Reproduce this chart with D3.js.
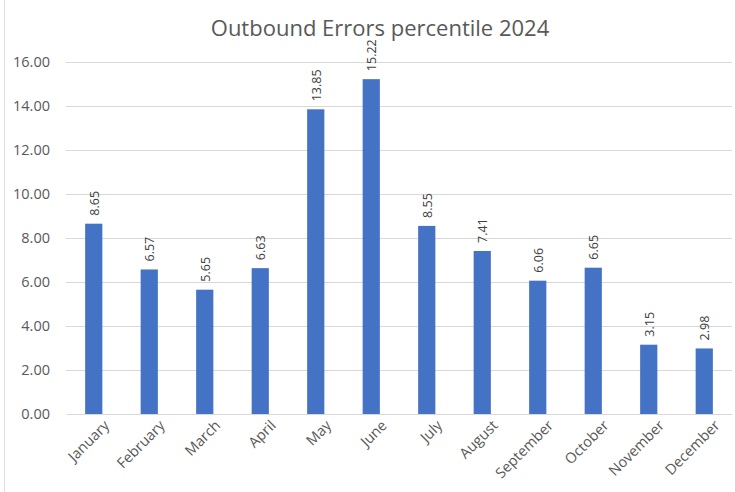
<!DOCTYPE html>
<meta charset="utf-8">
<script src="https://d3js.org/d3.v7.min.js"></script>
<style>
  * { margin: 0; padding: 0; }
  body { background: #fff; }
  .ycustom line { stroke: #d9d9d9; }
  .ycustom path { display: none; }
  .ycustom text { fill: #595959; font-size: 14.5px; font-family: "Open Sans", sans-serif; }
  .xcustom path { stroke: #d9d9d9; }
  .xcustom line { display: none; }
  .xcustom text { fill: #595959; font-size: 14.5px; font-family: "Open Sans", sans-serif; }
  .lbl { fill: #404040; font-size: 12.5px; font-family: "Open Sans", sans-serif; }
  .title { fill: #595959; font-size: 22px; font-family: "Open Sans", sans-serif; }
</style>
<body>
<div id="my_dataviz"></div>
<script>
// data
var months = ["January", "February", "March", "April", "May", "June",
  "July", "August", "September", "October", "November", "December"];
var values = [8.65, 6.57, 5.65, 6.63, 13.85, 15.22, 8.55, 7.41, 6.06, 6.65, 3.15, 2.98];
var yTicks = [0, 2, 4, 6, 8, 10, 12, 14, 16];

var W = 735, H = 492;
var margin = {top: 62, right: 3, bottom: 78, left: 66},
    width = W - margin.left - margin.right,
    height = H - margin.top - margin.bottom;

var root = d3.select("#my_dataviz")
  .append("svg")
    .attr("width", W)
    .attr("height", H);

// left frame edge
root.append("line")
  .attr("x1", 4.5).attr("x2", 4.5)
  .attr("y1", 0).attr("y2", H)
  .attr("stroke", "#e0e0e0");

root.append("text")
  .attr("class", "title")
  .attr("x", 380)
  .attr("y", 36)
  .attr("text-anchor", "middle")
  .text("Outbound Errors percentile 2024");

var svg = root.append("g")
  .attr("transform", "translate(" + margin.left + "," + margin.top + ")");

var x = d3.scaleBand()
  .domain(months)
  .range([0, width])
  .paddingInner(0.69)
  .paddingOuter(0.345);

var y = d3.scaleLinear()
  .domain([0, 16])
  .range([height, 0]);

// gridlines + y labels
svg.append("g")
  .attr("class", "ycustom")
  .call(d3.axisLeft(y)
    .tickValues(yTicks)
    .tickFormat(d3.format(".2f"))
    .tickSize(-width)
    .tickPadding(16))
  .selectAll("line").filter(function(d) { return d === 0; }).remove();

// x axis
svg.append("g")
  .attr("class", "xcustom")
  .attr("transform", "translate(0," + height + ")")
  .call(d3.axisBottom(x).tickSize(0).tickSizeOuter(0))
  .selectAll("text")
    .attr("text-anchor", "end")
    .attr("dx", "0.2em")
    .attr("dy", "1.2em")
    .attr("transform", "rotate(-45)");

// bars
svg.selectAll(".bar")
  .data(values)
  .enter()
  .append("rect")
    .attr("class", "bar")
    .attr("x", function(d, i) { return x(months[i]); })
    .attr("y", function(d) { return y(d); })
    .attr("width", x.bandwidth())
    .attr("height", function(d) { return height - y(d); })
    .attr("fill", "#4472c4");

// value labels
svg.selectAll(".lbl")
  .data(values)
  .enter()
  .append("text")
    .attr("class", "lbl")
    .attr("transform", function(d, i) {
      return "translate(" + (x(months[i]) + x.bandwidth() / 2 + 5) + "," + (y(d) - 8) + ") rotate(-90)";
    })
    .attr("text-anchor", "start")
    .text(function(d) { return d.toFixed(2); });
</script>
</body>
